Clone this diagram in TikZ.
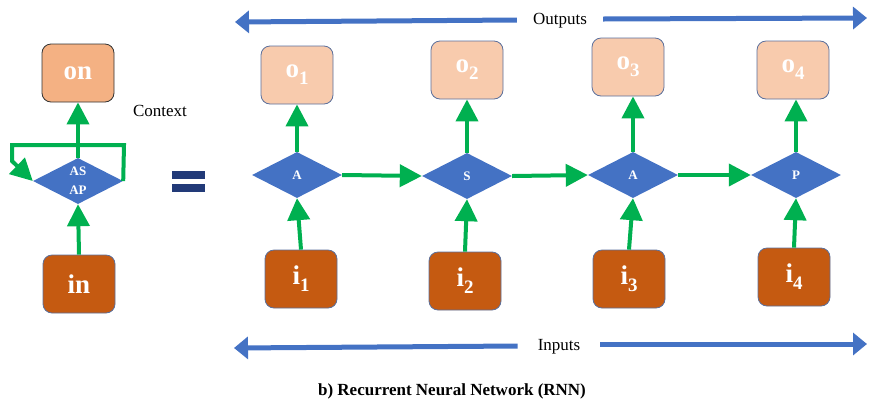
\documentclass[tikz,border=0pt]{standalone}
\usepackage{fontspec}
\setmainfont{Liberation Serif}
\usetikzlibrary{shapes.geometric,arrows.meta}
\definecolor{peach}{HTML}{F8CBAD}
\definecolor{salmon}{HTML}{F4B183}
\definecolor{rust}{HTML}{C55A11}
\definecolor{cellblue}{HTML}{4472C4}
\definecolor{flowgreen}{HTML}{00B050}
\definecolor{navy}{HTML}{223A78}
\definecolor{edgeblue}{HTML}{5A6F9C}
\newcommand\idx[1]{\raisebox{-7pt}{\fontsize{19}{19}\selectfont #1}}
\begin{document}
\begin{tikzpicture}[x=1pt,y=-1pt,
  box/.style={rounded corners=9pt, draw=edgeblue, line width=0.8pt,
    minimum width=72pt, minimum height=58pt, inner sep=0pt, text=white,
    font=\fontsize{27}{27}\selectfont\bfseries},
  outbox/.style={box, fill=peach},
  inbox/.style={box, fill=rust},
  cell/.style={diamond, fill=cellblue, minimum width=90pt, minimum height=46pt,
    inner sep=0pt, text=white, align=center,
    font=\fontsize{13}{19}\selectfont\bfseries},
  flow/.style={draw=flowgreen, line width=4pt,
    -{Triangle[width=22pt,length=22pt]}},
  timeline/.style={draw=cellblue, line width=5pt,
    -{Triangle[width=22pt,length=14pt]}},
  caption/.style={font=\fontsize{17}{20}\selectfont}]
\useasboundingbox (0,0) rectangle (869,408);

% folded network
\node[box, fill=salmon, draw=black!80] (on) at (78,73) {on};
\node[cell] (rec) at (78,181) {AS\\AP};
\node[inbox] (in) at (79,284) {in};
\node[caption] (ctx) at (160,111) {Context};
\draw[flow] (rec.north) -- (on.south);
\draw[flow] (in.north) -- (rec.south);
\coordinate (loopR) at (124,145);
\coordinate (loopL) at (12,145);
\coordinate (loopD) at (12,161);
\draw[flow] (rec.east) -- (loopR) -- (loopL) -- (loopD) -- (rec.west);

% equals sign
\fill[navy] (172,171) rectangle (205,179);
\fill[navy] (172,184) rectangle (205,192);

% unrolled network
\node[outbox] (o1) at (297,75) {o\idx{1}};
\node[outbox] (o2) at (467,70) {o\idx{2}};
\node[outbox] (o3) at (628,67) {o\idx{3}};
\node[outbox] (o4) at (793,70) {o\idx{4}};

\node[cell] (d1) at (297,175) {A};
\node[cell] (d2) at (467,176) {S};
\node[cell] (d3) at (633,175) {A};
\node[cell] (d4) at (796,175) {P};

\node[inbox] (i1) at (301,279) {i\idx{1}};
\node[inbox] (i2) at (465,281) {i\idx{2}};
\node[inbox] (i3) at (629,279) {i\idx{3}};
\node[inbox] (i4) at (794,277) {i\idx{4}};

\foreach \k in {1,2,3,4} {
  \draw[flow] (d\k.north) -- (d\k.north |- o\k.south);
  \draw[flow] (i\k.north) -- (d\k.south);
}
\draw[flow] (d1.east) -- (d2.west);
\draw[flow] (d2.east) -- (d3.west);
\draw[flow] (d3.east) -- (d4.west);

% time axes
\node[caption, inner xsep=16pt] (outlbl) at (560,21) {Outputs};
\coordinate (outL) at (235,22);
\coordinate (outR) at (867,18);
\draw[timeline] ([yshift=1pt]outlbl.west) -- (outL);
\draw[timeline] ([yshift=2pt]outlbl.east) -- (outR);

\node[caption, inner xsep=20pt] (inlbl) at (559,347) {Inputs};
\coordinate (inL) at (234,348);
\coordinate (inR) at (867,344);
\draw[timeline] ([yshift=1pt]inlbl.west) -- (inL);
\draw[timeline] ([yshift=3pt]inlbl.east) -- (inR);

\node[caption, font=\fontsize{17}{20}\selectfont\bfseries] (title) at (452,391)
  {b) Recurrent Neural Network (RNN)};
\end{tikzpicture}
\end{document}
